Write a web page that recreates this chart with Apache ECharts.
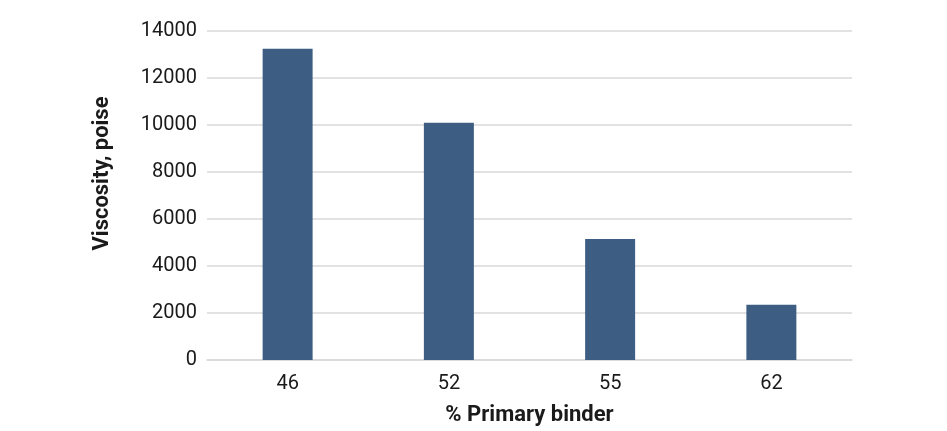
<!DOCTYPE html>
<html>
<head>
<meta charset="utf-8">
<script src="https://cdn.jsdelivr.net/npm/echarts@6/dist/echarts.min.js"></script>
<style>
  html, body { margin: 0; padding: 0; background: #fff; }
  #chart { width: 947px; height: 431px; }
</style>
</head>
<body>
<div id="chart"></div>
<script>
// % primary binder vs viscosity
var binder = ["46", "52", "55", "62"];
var viscosity = [13250, 10100, 5150, 2350];
var yTicks = { min: 0, max: 14000, step: 2000 };

var chart = echarts.init(document.getElementById("chart"));
var option = {
    animation: false,
    textStyle: { fontFamily: "Roboto" },
    grid: { left: 207, right: 95, top: 31, bottom: 71 },
    xAxis: {
        type: "category",
        data: binder,
        name: "% Primary binder",
        nameLocation: "middle",
        nameGap: 44,
        nameTextStyle: { color: "#1a1a1a", fontSize: 22, fontWeight: "bold" },
        axisLine: { lineStyle: { color: "#d9d9d9", width: 1.5 } },
        axisTick: { show: false },
        axisLabel: { color: "#1a1a1a", fontSize: 20, margin: 14 }
    },
    yAxis: {
        type: "value",
        min: yTicks.min,
        max: yTicks.max,
        interval: yTicks.step,
        name: "Viscosity, poise",
        nameLocation: "middle",
        nameGap: 94,
        nameTextStyle: { color: "#1a1a1a", fontSize: 22, fontWeight: "bold", padding: [0, 0, 0, 44] },
        axisLine: { show: false },
        axisTick: { show: false },
        axisLabel: {
            color: "#1a1a1a", fontSize: 20, margin: 10,
            formatter: function (v) { return String(v); }
        },
        splitLine: { lineStyle: { color: "#d9d9d9", width: 1.5 } }
    },
    series: [{
        type: "bar",
        data: viscosity,
        barWidth: "31%",
        itemStyle: { color: "#3d5e82" }
    }]
};
chart.setOption(option);
</script>
</body>
</html>
